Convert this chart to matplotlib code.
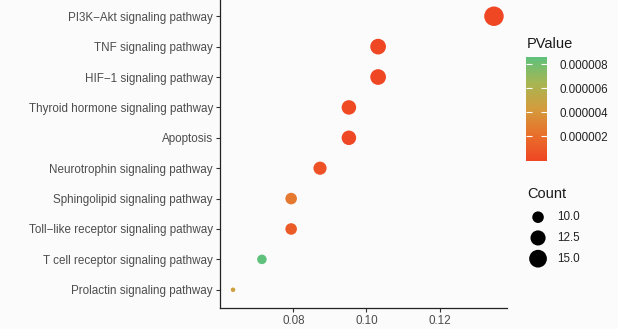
import numpy as np
import matplotlib
matplotlib.use("Agg")
import matplotlib.pyplot as plt
from matplotlib.colors import LinearSegmentedColormap, Normalize
from matplotlib.cm import ScalarMappable

plt.rcParams['font.family'] = ['Liberation Sans', 'DejaVu Sans']

# ---- data (bottom to top) ----
pathways = [
    "Prolactin signaling pathway",
    "T cell receptor signaling pathway",
    "Toll\u2212like receptor signaling pathway",
    "Sphingolipid signaling pathway",
    "Neurotrophin signaling pathway",
    "Apoptosis",
    "Thyroid hormone signaling pathway",
    "HIF\u22121 signaling pathway",
    "TNF signaling pathway",
    "PI3K\u2212Akt signaling pathway",
]
gene_ratio = [0.0635, 0.0714, 0.0794, 0.0794, 0.0873, 0.0952, 0.0952, 0.1032, 0.1032, 0.1349]
counts = [8, 9, 10, 10, 11, 12, 12, 13, 13, 17]
pvalues = [4.6e-6, 8.6e-6, 1.1e-6, 2.6e-6, 6.0e-7, 1.8e-7, 1.5e-7, 2.1e-8, 3.5e-9, 1.2e-10]

xticks = [0.08, 0.10, 0.12]
xtick_labels = ["0.08", "0.10", "0.12"]
cbar_ticks = [2e-6, 4e-6, 6e-6, 8e-6]
cbar_labels = ["0.000002", "0.000004", "0.000006", "0.000008"]
count_legend = [10.0, 12.5, 15.0]

DPI = 100
W, H = 618, 329
fig = plt.figure(figsize=(W / DPI, H / DPI), dpi=DPI)
bg = "#fbfbfb"
fig.patch.set_facecolor(bg)

cmap = LinearSegmentedColormap.from_list(
    "pv", ["#ef4623", "#e8702b", "#d49c3c", "#a6b653", "#5ec17c"])
norm = Normalize(vmin=min(pvalues), vmax=max(pvalues))

cmin, cmax = min(counts), max(counts)
def size_pts2(c):
    d_px = 4.5 + 15.0 * np.sqrt(np.clip((np.asarray(c, float) - cmin) / (cmax - cmin), 0, None))
    d_pt = d_px * 72.0 / DPI
    return d_pt ** 2

def px(x0, y0, w, h):
    return [x0 / W, 1 - (y0 + h) / H, w / W, h / H]

ax = fig.add_axes(px(220, -2, 287, 310))
ax.set_facecolor(bg)
ypos = np.arange(1, len(pathways) + 1)
ax.scatter(gene_ratio, ypos, s=size_pts2(counts), c=pvalues, cmap=cmap, norm=norm,
           edgecolors='none', zorder=3)
xr = max(gene_ratio) - min(gene_ratio)
ax.set_xlim(min(gene_ratio) - 0.05 * xr, max(gene_ratio) + 0.05 * xr)
ax.set_ylim(0.4, len(pathways) + 0.6)
ax.set_yticks(ypos)
ax.set_yticklabels(pathways)
ax.set_xticks(xticks)
ax.set_xticklabels(xtick_labels)
for s in ['top', 'right']:
    ax.spines[s].set_visible(False)
for s in ['left', 'bottom']:
    ax.spines[s].set_color('#222222')
    ax.spines[s].set_linewidth(0.9)
ax.tick_params(axis='both', length=3, width=0.8, color='#333333',
               labelcolor='#4d4d4d', labelsize=8.4, pad=2)

# colorbar
cax = fig.add_axes(px(526, 57, 21, 103.5))
cb = fig.colorbar(ScalarMappable(norm=norm, cmap=cmap), cax=cax)
cb.outline.set_visible(False)
cb.set_ticks(cbar_ticks)
cb.set_ticklabels(cbar_labels)
cax.tick_params(axis='y', direction='in', length=4, width=0.8, color='white',
                left=True, right=True, labelcolor='#222222', labelsize=8.4, pad=9)
fig.text(527 / W, 1 - 44 / H, "PValue", fontsize=10.5, color='#1a1a1a', va='center', ha='left')

# size legend
fig.text(527 / W, 1 - 194 / H, "Count", fontsize=10.5, color='#1a1a1a', va='center', ha='left')
handles = [ax.scatter([], [], s=size_pts2(v), color='black', edgecolors='none') for v in count_legend]
leg = fig.legend(handles, [f"{v:.1f}" for v in count_legend], loc='center left',
                 bbox_to_anchor=(529 / W, 1 - 238 / H), frameon=False, fontsize=8.4,
                 handlelength=1.55, handletextpad=0.85, labelspacing=0.75, borderpad=0,
                 borderaxespad=0, scatterpoints=1)
for t in leg.get_texts():
    t.set_color('#222222')

fig.savefig("out.png", dpi=DPI, facecolor=bg)
